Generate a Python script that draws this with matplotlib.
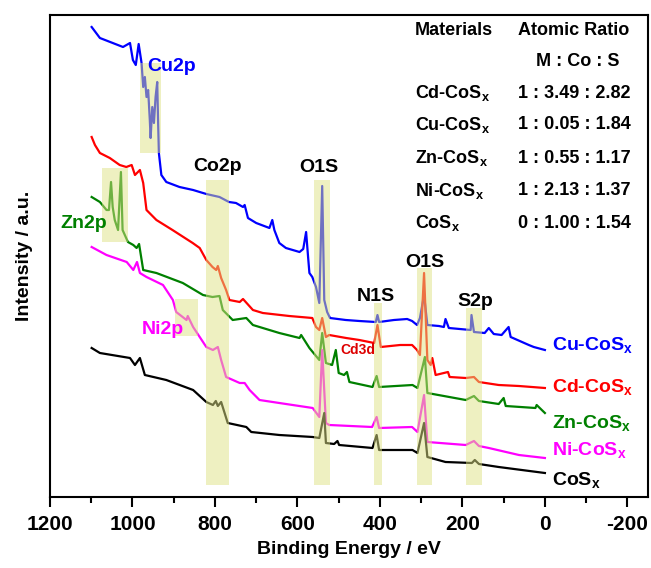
import matplotlib
matplotlib.use("Agg")
import matplotlib.pyplot as plt
from matplotlib.ticker import MultipleLocator

plt.rcParams['font.family'] = ['Liberation Sans', 'DejaVu Sans']
plt.rcParams['font.weight'] = 'bold'
plt.rcParams['axes.unicode_minus'] = False
plt.rcParams['mathtext.fontset'] = 'custom'
plt.rcParams['mathtext.rm'] = 'Liberation Sans:bold'
plt.rcParams['mathtext.it'] = 'Liberation Sans:bold'
plt.rcParams['mathtext.bf'] = 'Liberation Sans:bold'

# ---- spectra (binding energy in eV, intensity in a.u. incl. offset) ----
cu_e = [1099, 1079, 1023, 1006, 999, 992, 985, 978, 974, 970, 966, 962, 958, 956, 952, 948,
        944, 940, 938, 936, 930, 918, 886, 853, 821, 789, 766, 749, 732, 728, 720, 700, 668,
        661, 656, 644, 628, 595, 586, 579, 574, 571, 564, 555, 547, 540, 535, 528, 521, 483,
        450, 410, 406, 402, 366, 334, 322, 310, 303, 293, 285, 257, 245, 241, 233, 180, 178,
        172, 146, 136, 124, 105, 88, 83, 39, 27, 0]
cu_i = [470, 459, 450, 454, 437, 432, 453, 434, 410, 420, 400, 407, 377, 359, 390, 374,
        400, 415, 377, 344, 322, 315, 310, 307, 303, 300, 295, 294, 290, 292, 279, 274, 269,
        277, 267, 254, 249, 245, 248, 265, 239, 224, 220, 210, 194, 311, 197, 185, 179, 177,
        176, 175, 182, 175, 177, 178, 176, 172, 179, 202, 172, 171, 170, 178, 169, 167, 182,
        165, 164, 169, 163, 162, 170, 160, 152, 150, 147]

cd_e = [1099, 1091, 1079, 1055, 1031, 1015, 1002, 994, 982, 974, 966, 942, 903, 854, 837,
        821, 806, 797, 793, 785, 773, 765, 740, 732, 708, 684, 620, 564, 555, 547, 540, 531,
        523, 482, 450, 414, 406, 398, 351, 322, 310, 303, 293, 285, 277, 273, 265, 235, 231,
        192, 172, 160, 112, 63, 0]
cd_i = [360, 352, 344, 339, 332, 330, 332, 322, 327, 314, 287, 277, 267, 254, 249,
        237, 230, 227, 231, 219, 207, 197, 195, 198, 187, 184, 181, 179, 170, 167, 179, 160,
        162, 159, 157, 154, 172, 150, 152, 152, 147, 142, 224, 137, 132, 139, 122, 125, 120,
        119, 120, 115, 112, 111, 109]

zn_e = [1099, 1079, 1063, 1057, 1052, 1048, 1043, 1035, 1028, 1024, 1011, 998, 990, 984, 974,
        942, 878, 829, 806, 789, 781, 757, 724, 708, 644, 595, 591, 571, 547, 540, 531, 516,
        507, 500, 487, 480, 474, 418, 408, 402, 321, 309, 291, 285, 245, 192, 172, 160, 112,
        100, 95, 23, 20, 0]
zn_i = [300, 295, 287, 287, 315, 290, 277, 267, 325, 267, 255, 252, 249, 253, 227,
        224, 214, 202, 200, 201, 187, 177, 179, 172, 164, 159, 162, 149, 137, 164, 134, 132,
        147, 124, 122, 125, 115, 110, 121, 110, 112, 109, 140, 104, 101, 97, 101, 96, 93,
        99, 91, 89, 92, 84]

ni_e = [1099, 1063, 1014, 998, 989, 982, 966, 926, 902, 894, 869, 866, 853, 821, 805, 793,
        785, 773, 740, 728, 716, 692, 644, 563, 547, 540, 531, 523, 419, 408, 402, 322, 309,
        293, 285, 192, 172, 160, 136, 63, 0]
ni_i = [250, 242, 235, 227, 235, 224, 220, 212, 197, 185, 177, 181, 170, 150, 147, 150,
        137, 120, 114, 114, 107, 97, 94, 89, 80, 147, 74, 72, 70, 80, 69, 70, 65,
        102, 55, 52, 56, 51, 49, 42, 39]

co_e = [1099, 1079, 1006, 994, 982, 970, 918, 853, 821, 805, 798, 793, 785, 769, 724, 712,
        644, 563, 547, 535, 531, 511, 503, 499, 418, 408, 402, 321, 309, 293, 285, 241, 177,
        170, 160, 112, 0]
co_i = [149, 144, 139, 132, 139, 122, 117, 107, 95, 92, 96, 91, 95, 74, 70, 65,
        62, 60, 59, 84, 54, 53, 56, 52, 49, 62, 47, 47, 44, 74, 40, 35, 34,
        37, 33, 30, 24]

series = [
    (cu_e, cu_i, '#0000ff', 'Cu-CoS$_x$', 152),
    (cd_e, cd_i, '#ff0000', 'Cd-CoS$_x$', 110),
    (zn_e, zn_i, '#008000', 'Zn-CoS$_x$', 74),
    (ni_e, ni_i, '#ff00ff', 'Ni-CoS$_x$', 47),
    (co_e, co_i, '#000000', 'CoS$_x$', 17),
]

# highlighted regions: (high E, low E, bottom, top)
band_hi = [982, 1074, 898, 821, 559, 414, 311, 192]
band_lo = [930, 1011, 841, 766, 521, 395, 273, 152]
band_bot = [344, 255, 161, 12, 12, 12, 12, 12]
band_top = [434, 329, 198, 317, 317, 194, 229, 189]

# peak labels
peak_txt = ['Cu2p', 'Zn2p', 'Ni2p', 'Co2p', 'O1S', 'N1S', 'O1S', 'S2p', 'Cd3d']
peak_e = [905, 1119, 926, 794, 549, 410, 290, 168, 454]
peak_i = [430, 273, 167, 330, 329, 200, 234, 195, 147]
peak_col = ['#0000ff', '#008000', '#ff00ff', 'k', 'k', 'k', 'k', 'k', '#dd0000']

# atomic ratio table
materials = ['Cd-CoS$_x$', 'Cu-CoS$_x$', 'Zn-CoS$_x$', 'Ni-CoS$_x$', 'CoS$_x$']
ratios = ['1 : 3.49 : 2.82', '1 : 0.05 : 1.84', '1 : 0.55 : 1.17', '1 : 2.13 : 1.37', '0 : 1.00 : 1.54']

fig = plt.figure(figsize=(6.51, 5.68), dpi=100)
ax = fig.add_axes([0.0768, 0.125, 0.9186, 0.8486])

for e, i, c, lab, ly in series:
    ax.plot(e, i, color=c, lw=1.6, zorder=2)
    ax.text(-17, ly, lab, color=c, fontsize=14, fontweight='bold', ha='left', va='center')

for h, l, b, t in zip(band_hi, band_lo, band_bot, band_top):
    ax.fill_between([h, l], [b, b], [t, t], color='#dfe384', alpha=0.5, lw=0, zorder=3)

for txt, e, i, c in zip(peak_txt, peak_e, peak_i, peak_col):
    fs = 10 if txt == 'Cd3d' else 14
    ax.text(e, i, txt, color=c, fontsize=fs, fontweight='bold', ha='center', va='center', zorder=4)

tf = ax.transAxes
ax.text(0.676, 0.967, 'Materials', transform=tf, fontsize=13, ha='center', va='center')
ax.text(0.876, 0.967, 'Atomic Ratio', transform=tf, fontsize=13, ha='center', va='center')
ax.text(0.882, 0.903, 'M : Co : S', transform=tf, fontsize=13, ha='center', va='center')
row_y = [0.838, 0.772, 0.703, 0.635, 0.568]
for m, r, y in zip(materials, ratios, row_y):
    ax.text(0.610, y, m, transform=tf, fontsize=13, ha='left', va='center')
    ax.text(0.783, y, r, transform=tf, fontsize=13, ha='left', va='center')

ax.set_xlim(1200, -250)
ax.set_ylim(0, 482)
ax.xaxis.set_major_locator(MultipleLocator(200))
ax.xaxis.set_minor_locator(MultipleLocator(100))
ax.set_yticks([])
ax.tick_params(axis='x', which='major', length=7, width=1.5, labelsize=15, pad=6)
ax.tick_params(axis='x', which='minor', length=4, width=1.5)
for lbl in ax.get_xticklabels():
    lbl.set_fontweight('bold')
for s in ax.spines.values():
    s.set_linewidth(1.5)

ax.set_xlabel('Binding Energy / eV', fontsize=14, fontweight='bold', labelpad=5)
ax.set_ylabel('Intensity / a.u.', fontsize=14, fontweight='bold', labelpad=12)

fig.savefig('out.png', dpi=100)
